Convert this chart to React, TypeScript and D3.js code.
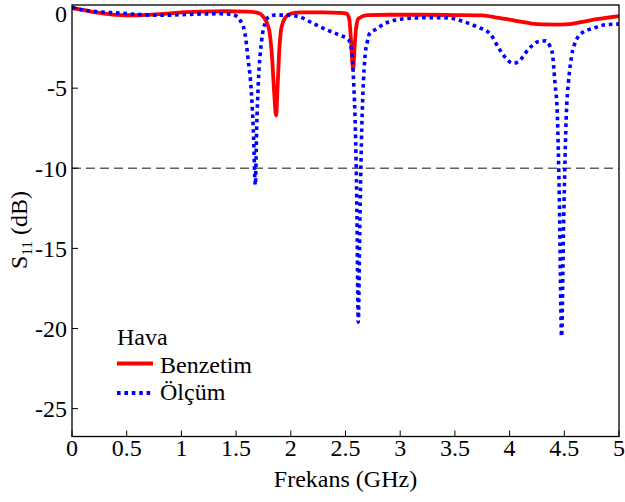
import React from "react";
import * as d3 from "d3";

const xTicks = [0, 0.5, 1, 1.5, 2, 2.5, 3, 3.5, 4, 4.5, 5];
const xTickLabels = ["0", "0.5", "1", "1.5", "2", "2.5", "3", "3.5", "4", "4.5", "5"];
const yTicks = [0, -5, -10, -15, -20, -25];
const yTickLabels = ["0", "-5", "-10", "-15", "-20", "-25"];
const threshold = -10;

const seriesNames = ["Benzetim", "Ölçüm"];
const legendTitle = "Hava";

const freqSim = [0, 0.1, 0.2, 0.3, 0.4, 0.5, 0.6, 0.7, 0.8, 0.9, 1.0, 1.2, 1.4, 1.6, 1.7, 1.75, 1.8, 1.83, 1.85, 1.865, 1.88, 1.895, 1.915, 1.95, 2.0, 2.1, 2.3, 2.45, 2.51, 2.535, 2.55, 2.57, 2.585, 2.6, 2.62, 2.7, 2.9, 3.2, 3.5, 3.75, 3.9, 4.0, 4.1, 4.2, 4.3, 4.45, 4.55, 4.65, 4.75, 4.85, 5.0];
const s11Sim = [0, -0.12, -0.25, -0.35, -0.42, -0.45, -0.45, -0.42, -0.38, -0.33, -0.27, -0.22, -0.2, -0.22, -0.3, -0.55, -1.3, -3.2, -5.5, -6.7, -4.8, -2.6, -1.2, -0.6, -0.35, -0.27, -0.27, -0.3, -0.35, -0.7, -2.0, -3.85, -2.2, -1.1, -0.65, -0.44, -0.42, -0.42, -0.44, -0.46, -0.62, -0.72, -0.85, -0.97, -1.02, -1.03, -1.0, -0.88, -0.75, -0.65, -0.5];

const freqMeas = [0, 0.1, 0.2, 0.3, 0.45, 0.6, 0.75, 0.9, 1.05, 1.2, 1.35, 1.45, 1.5, 1.54, 1.58, 1.61, 1.64, 1.657, 1.676, 1.688, 1.703, 1.734, 1.764, 1.8, 1.85, 1.96, 2.08, 2.2, 2.36, 2.45, 2.525, 2.557, 2.575, 2.59, 2.603, 2.617, 2.63, 2.645, 2.66, 2.68, 2.7, 2.72, 2.785, 2.85, 2.9, 3.0, 3.15, 3.3, 3.45, 3.58, 3.7, 3.82, 3.91, 3.97, 4.03, 4.08, 4.17, 4.26, 4.33, 4.37, 4.39, 4.415, 4.436, 4.455, 4.475, 4.495, 4.52, 4.537, 4.567, 4.61, 4.675, 4.765, 4.857, 5.0];
const s11Meas = [0.04, -0.12, -0.21, -0.26, -0.32, -0.4, -0.45, -0.44, -0.4, -0.37, -0.36, -0.38, -0.5, -0.8, -1.55, -3.2, -5.3, -7.5, -11.05, -7.5, -4.7, -2.0, -0.96, -0.55, -0.44, -0.44, -0.55, -0.95, -1.45, -1.7, -1.95, -2.7, -4.7, -7.5, -12, -19.6, -14, -8.5, -5.2, -2.9, -2.1, -1.6, -1.3, -1.0, -0.85, -0.7, -0.62, -0.6, -0.62, -0.85, -1.17, -1.6, -2.6, -3.15, -3.45, -3.35, -2.6, -2.1, -2.05, -2.4, -2.8, -4.7, -6.6, -12, -20.5, -13, -6.4, -4.7, -3.0, -2.0, -1.48, -1.27, -1.06, -1.0];

const W = 625;
const H = 502;
const left = 72;
const right = 619;
const top = 5;
const bottom = 436.5;
const FONT = "'Liberation Serif', serif";

export default function App() {
  const x = d3.scaleLinear().domain([0, 5]).range([left, right]);
  const y = d3.scaleLinear().domain([-26.74, 0.19]).range([bottom, top]);

  const line = d3
    .line<[number, number]>()
    .x((d) => x(d[0]))
    .y((d) => y(d[1]))
    .curve(d3.curveMonotoneX);

  const simPts = freqSim.map((f, i) => [f, s11Sim[i]] as [number, number]);
  const measPts = freqMeas.map((f, i) => [f, s11Meas[i]] as [number, number]);

  const txt = { fontFamily: FONT, fontSize: "24px" } as React.CSSProperties;

  return (
    <svg width={W} height={H} style={{ position: "absolute", left: 0, top: 0, background: "#fff" }}>
      <rect x={0} y={0} width={W} height={H} fill="#fff" />
      <defs>
        <clipPath id="plotclip">
          <rect x={left} y={top} width={right - left} height={bottom - top} />
        </clipPath>
      </defs>
      <line
        x1={left}
        x2={right}
        y1={y(threshold)}
        y2={y(threshold)}
        stroke="#606060"
        strokeWidth={1.6}
        strokeDasharray="9,5"
      />
      <g clipPath="url(#plotclip)">
        <path d={line(simPts) || ""} fill="none" stroke="#ff0000" strokeWidth={3.8} strokeLinejoin="round" />
        <path d={line(measPts) || ""} fill="none" stroke="#0000ff" strokeWidth={3.6} strokeDasharray="3.6,3.8" />
      </g>
      <rect x={left} y={top} width={right - left} height={bottom - top} fill="none" stroke="#000" strokeWidth={1.3} />
      {xTicks.map((t, i) => (
        <g key={"xt" + i}>
          <line x1={x(t)} x2={x(t)} y1={bottom} y2={bottom - 6} stroke="#000" strokeWidth={1} />
          <text x={x(t)} y={456} style={txt} textAnchor="middle" fill="#000">
            {xTickLabels[i]}
          </text>
        </g>
      ))}
      {yTicks.map((t, i) => (
        <g key={"yt" + i}>
          <line x1={left} x2={left + 6} y1={y(t)} y2={y(t)} stroke="#000" strokeWidth={1} />
          <text x={left - 5} y={Math.max(y(t) + 8.3, 21.5)} style={txt} textAnchor="end" fill="#000">
            {yTickLabels[i]}
          </text>
        </g>
      ))}
      <text x={(left + right) / 2} y={487} style={txt} textAnchor="middle" fill="#000">
        Frekans (GHz)
      </text>
      <text transform={`translate(27,230) rotate(-90)`} style={txt} textAnchor="middle" fill="#000">
        S<tspan style={{ fontFamily: FONT, fontSize: "15px" }} dy={5}>11</tspan>
        <tspan dy={-5}> (dB)</tspan>
      </text>
      <text x={117} y={345} style={txt} fill="#000">
        {legendTitle}
      </text>
      <line x1={117} x2={153} y1={363.5} y2={363.5} stroke="#ff0000" strokeWidth={4} />
      <text x={160} y={373} style={txt} fill="#000">
        {seriesNames[0]}
      </text>
      <line x1={117} x2={153} y1={393} y2={393} stroke="#0000ff" strokeWidth={4} strokeDasharray="3.6,3.8" />
      <text x={160} y={400} style={txt} fill="#000">
        {seriesNames[1]}
      </text>
    </svg>
  );
}
